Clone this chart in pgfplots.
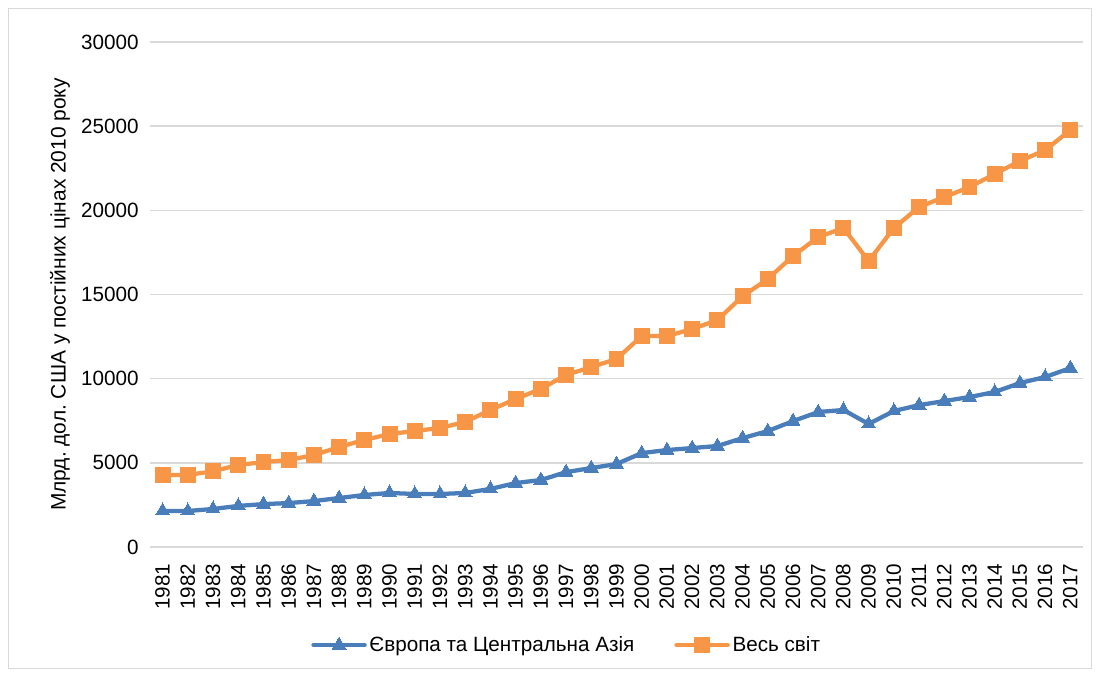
\documentclass[border=0pt]{standalone}
\usepackage{fontspec}
\setmainfont{Liberation Sans}
\usepackage{pgfplots}
\pgfplotsset{compat=1.18}
\definecolor{eublue}{HTML}{4A7EBB}
\definecolor{worange}{HTML}{F79646}
\definecolor{gridgray}{HTML}{D9D9D9}
\frenchspacing
\begin{document}
\begin{tikzpicture}
\useasboundingbox (0pt,0pt) rectangle (824.25pt,-506.25pt);
\draw[gridgray,line width=0.75pt] (6pt,-6pt) rectangle (818.25pt,-501pt);
\begin{axis}[
  at={(112.5pt,-410.25pt)}, anchor=south west,
  scale only axis,
  width=699.75pt, height=378.75pt,
  xmin=1980.5, xmax=2017.5,
  ymin=0, ymax=30000,
  ytick={0,5000,...,30000},
  xtick={1981,...,2017},
  scaled y ticks=false,
  /pgf/number format/assume math mode=true,
  /pgf/number format/1000 sep={},
  x tick label style={rotate=90, anchor=east, font=\fontsize{15.5}{18}\selectfont, xshift=-9pt},
  y tick label style={font=\fontsize{15.5}{18}\selectfont, xshift=-5pt},
  ymajorgrids, grid style={gridgray, line width=1.1pt},
  axis line style={draw=none},
  axis x line*=bottom,
  axis y line*=left,
  major tick length=0pt,
  tick style={draw=none},
  ylabel={Млрд.\ дол.\ США у постійних цінах 2010 року},
  ylabel style={font=\fontsize{15.7}{18}\selectfont, at={(axis description cs:0,0.5)}, anchor=center, yshift=67.5pt},
  legend style={draw=none, at={(rel axis cs:0,0)}, anchor=center, xshift=312.75pt, yshift=-73.5pt,
    font=\fontsize{15.5}{18}\selectfont, legend columns=2,
    /tikz/every even column/.append style={column sep=28pt}},
  legend image code/.code={\draw[#1, line cap=round] (0cm,0cm) -- (1.35cm,0cm); \draw[#1] plot coordinates {(0.675cm,0cm)};},
  clip=false,
]
\addplot[eublue, line width=3.2pt, mark=triangle*, mark size=6pt, mark options={solid, line width=0pt}] coordinates {
(1981,2140)(1982,2140)(1983,2260)(1984,2440)(1985,2550)(1986,2610)(1987,2730)(1988,2910)(1989,3090)(1990,3210)
(1991,3150)(1992,3150)(1993,3210)(1994,3450)(1995,3800)(1996,3980)(1997,4450)(1998,4690)(1999,4930)(2000,5580)
(2001,5760)(2002,5880)(2003,6000)(2004,6470)(2005,6890)(2006,7480)(2007,8020)(2008,8140)(2009,7310)(2010,8080)
(2011,8430)(2012,8670)(2013,8910)(2014,9210)(2015,9740)(2016,10100)(2017,10630)};
\addlegendentry{Європа та Центральна Азія}
\addplot[worange, line width=3.2pt, mark=square*, mark size=5.6pt, mark options={solid, line width=0pt}] coordinates {
(1981,4280)(1982,4280)(1983,4500)(1984,4870)(1985,5050)(1986,5170)(1987,5460)(1988,5940)(1989,6360)(1990,6710)
(1991,6890)(1992,7070)(1993,7430)(1994,8140)(1995,8790)(1996,9390)(1997,10220)(1998,10690)(1999,11170)(2000,12530)
(2001,12530)(2002,12950)(2003,13480)(2004,14900)(2005,15920)(2006,17290)(2007,18410)(2008,18950)(2009,16990)(2010,18950)
(2011,20200)(2012,20790)(2013,21380)(2014,22160)(2015,22930)(2016,23580)(2017,24770)};
\addlegendentry{Весь світ}
\end{axis}
\end{tikzpicture}
\end{document}
